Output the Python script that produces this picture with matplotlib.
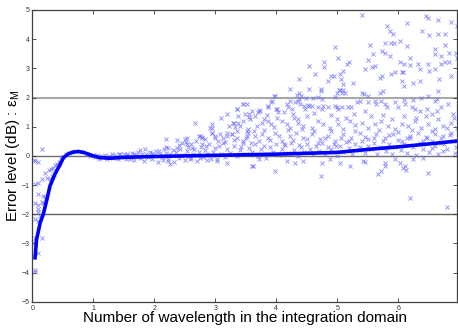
import numpy as np
import matplotlib.pyplot as plt

plt.rcParams['font.family'] = ['Liberation Sans', 'DejaVu Sans']

# mean error curve (thick line)
curve_x = [0.045, 0.07, 0.13, 0.18, 0.24, 0.29, 0.37, 0.45, 0.51, 0.59, 0.67, 0.76, 0.84, 0.92,
           1.0, 1.11, 1.27, 1.5, 2.0, 2.5, 3.0, 3.5, 4.0, 4.5, 5.0, 5.5, 6.0, 6.5, 6.97]
curve_y = [-3.49, -2.86, -2.29, -2.0, -1.49, -1.03, -0.63, -0.32, -0.06, 0.07, 0.13, 0.15, 0.12, 0.06,
           0.0, -0.06, -0.08, -0.05, -0.02, 0.0, 0.02, 0.04, 0.06, 0.09, 0.12, 0.22, 0.31, 0.41, 0.51]

# individual samples as (x, y)
rise_pts = [(0.16, 0.23), (0.03, -0.15), (0.10, -0.2), (0.045, -0.17), (0.21, -0.57), (0.27, -0.49),
            (0.31, -0.46), (0.34, -0.40), (0.37, -0.32), (0.40, -0.28), (0.16, -0.80), (0.24, -0.74),
            (0.29, -0.80), (0.32, -0.69), (0.35, -0.63), (0.045, -0.97), (0.10, -0.94), (0.10, -1.31),
            (0.18, -1.37), (0.21, -1.40), (0.045, -1.62), (0.10, -1.69), (0.16, -1.58), (0.18, -1.62),
            (0.10, -1.83), (0.10, -1.92), (0.045, -2.17), (0.10, -2.23), (0.13, -2.06), (0.045, -2.80),
            (0.16, -2.80), (0.045, -2.97), (0.10, -3.31), (0.045, -3.91), (0.045, -3.97),
            (0.43, -0.2), (0.47, -0.12), (0.5, -0.05), (0.55, 0.05), (0.6, 0.1), (0.65, 0.14),
            (0.7, 0.16), (0.8, 0.12), (0.9, 0.05), (0.95, 0.0)]

band_pts = [(1.0, 0.02), (1.03, -0.05), (1.06, 0.03), (1.1, -0.1), (1.13, 0.0), (1.16, -0.04),
            (1.2, 0.04), (1.23, -0.12), (1.26, -0.02), (1.3, 0.05), (1.33, -0.08), (1.36, 0.02),
            (1.4, -0.1), (1.43, 0.06), (1.46, -0.03), (1.5, 0.08), (1.53, -0.12), (1.56, 0.03),
            (1.6, -0.05), (1.63, 0.1), (1.66, -0.15), (1.7, 0.02), (1.73, 0.12), (1.76, -0.08),
            (1.8, 0.05), (1.83, -0.18), (1.86, 0.08), (1.9, -0.04), (1.93, 0.15), (1.96, -0.12),
            (2.0, 0.04), (2.03, 0.18), (2.06, -0.2), (2.1, 0.08), (2.13, -0.05), (2.16, 0.22),
            (2.2, 0.1), (2.23, -0.1), (2.26, 0.05), (2.3, 0.2), (2.33, -0.22), (2.36, 0.12),
            (2.4, -0.06), (2.43, 0.25), (2.46, 0.02), (2.5, -0.15), (2.53, 0.16), (2.56, 0.3),
            (2.6, -0.08), (2.63, 0.08), (2.66, 0.22), (2.7, -0.18), (2.73, 0.12), (2.76, 0.32),
            (2.8, -0.05), (2.83, 0.2), (2.86, 0.05), (2.9, 0.4), (2.93, -0.12), (2.96, 0.15),
            (3.0, 0.28), (3.03, -0.1), (3.06, 0.35), (3.1, 0.08), (3.13, 0.45), (3.16, -0.05),
            (3.2, 0.22), (1.44, 0.06), (1.55, 0.08), (1.66, 0.06), (1.61, -0.11), (1.77, 0.2),
            (1.85, 0.23), (1.96, 0.11), (2.07, 0.17), (2.26, -0.29), (2.15, -0.15), (2.23, -0.17),
            (2.59, -0.11), (2.75, -0.08), (2.86, -0.15), (3.03, -0.17), (3.19, -0.23)]

band_right_pts = [(3.25, 0.1), (3.3, 0.35), (3.35, 0.0), (3.4, 0.2), (3.45, 0.45), (3.5, 0.05),
                  (3.55, 0.28), (3.6, 0.12), (3.65, 0.4), (3.7, -0.02), (3.75, 0.22), (3.8, 0.35),
                  (3.85, 0.08), (3.9, 0.3), (3.95, 0.15), (4.0, 0.42), (4.05, 0.02), (4.1, 0.25),
                  (4.15, 0.38), (4.2, 0.1), (4.25, 0.45), (4.3, 0.2), (4.35, 0.0), (4.4, 0.32),
                  (4.45, 0.12), (4.5, 0.4), (4.55, 0.25), (4.6, 0.05), (4.65, 0.35), (4.7, 0.18),
                  (4.75, 0.45), (4.8, 0.08), (4.85, 0.3), (4.9, 0.22), (4.95, 0.42), (5.0, 0.0),
                  (5.05, 0.35), (5.1, 0.15), (5.15, 0.48), (5.2, 0.28), (5.25, 0.05), (5.3, 0.4),
                  (5.35, 0.2), (5.4, 0.5), (5.45, 0.1), (5.5, 0.35), (5.55, 0.25), (5.6, 0.45),
                  (5.65, 0.08), (5.7, 0.32), (5.75, 0.5), (5.8, 0.18), (5.85, 0.42), (5.9, 0.05),
                  (5.95, 0.3), (6.0, 0.55), (6.05, 0.2), (6.1, 0.4), (6.15, 0.1), (6.2, 0.6),
                  (6.25, 0.3), (6.3, 0.02), (6.35, 0.45), (6.4, 0.25), (6.45, 0.65), (6.5, 0.15),
                  (6.55, 0.5), (6.6, 0.35), (6.65, 0.05), (6.7, 0.6), (6.75, 0.4), (6.8, 0.25),
                  (6.85, 0.7), (6.9, 0.5), (6.95, 0.3)]

below_pts = [(3.62, -0.34), (3.98, -0.51), (4.74, -0.69), (5.21, -0.34), (5.67, -0.63), (5.72, -0.51),
             (5.78, -0.34), (6.08, -0.40), (6.13, -0.48), (6.19, -1.43), (6.49, -0.57), (6.80, -1.75),
             (6.11, -0.34), (6.03, -0.23), (5.78, -0.23), (5.43, -0.17), (5.46, -0.2), (5.95, -0.11),
             (6.25, -0.11), (6.41, -0.06), (6.55, 0.28), (6.74, 0.17), (6.93, 0.11), (3.60, -0.34),
             (4.17, -0.17), (4.31, -0.23), (4.44, -0.17), (4.75, -0.23), (4.89, -0.11), (5.05, -0.23),
             (3.71, -0.11), (3.84, -0.06)]

mid_pts = [(3.27, 0.74), (3.35, 0.63), (3.46, 0.51), (3.54, 0.80), (3.65, 0.69), (3.76, 0.74),
           (3.87, 0.63), (3.98, 0.80), (4.09, 0.51), (4.22, 0.69), (4.33, 0.80), (4.44, 0.63),
           (4.58, 0.74), (4.71, 0.57), (4.85, 0.69), (4.96, 0.51), (5.10, 0.74), (5.23, 0.63),
           (5.37, 0.80), (5.51, 0.57), (5.64, 0.74), (5.78, 0.63), (5.92, 0.74), (6.06, 0.51),
           (6.19, 0.69), (6.33, 0.80), (6.47, 0.63), (6.60, 0.74), (6.74, 0.69), (6.87, 0.80),
           (2.92, 0.95), (2.95, 0.80), (3.19, 0.80), (3.22, 1.03), (2.75, 0.69), (2.78, 0.63),
           (2.84, 0.57), (3.0, 0.63), (3.08, 0.74), (2.51, 0.57), (2.54, 0.40), (2.62, 0.28),
           (2.20, 0.57), (2.23, 0.28), (2.37, 0.28), (2.37, 0.54), (2.54, 0.61), (2.52, 0.49),
           (3.0, 0.69), (3.05, 0.51), (3.16, 0.49), (3.19, 0.69), (2.2, 0.31), (2.41, 0.38),
           (2.61, 0.40), (2.78, 0.42), (3.29, 1.14), (3.40, 1.03), (3.54, 0.92), (3.68, 1.03),
           (3.76, 1.14), (3.87, 1.20), (3.92, 1.09), (4.09, 1.20), (4.17, 1.09), (4.22, 0.97),
           (4.36, 1.14), (4.44, 1.03), (4.58, 0.97), (4.69, 1.20), (4.77, 1.09), (4.88, 0.97),
           (5.02, 1.09), (5.10, 0.92), (5.21, 1.20), (5.29, 1.06), (5.40, 1.14), (5.51, 0.97),
           (5.62, 1.09), (5.72, 1.20), (5.83, 1.03), (5.94, 0.92), (6.06, 1.09), (6.16, 1.03),
           (6.27, 1.20), (6.38, 0.97), (6.49, 1.09), (6.60, 0.92), (6.74, 1.03), (6.87, 1.14),
           (6.96, 0.97)]

# second pass over the crowded part between 0 and 1.5 dB
extra_pts = [(3.3, 0.55), (3.42, 0.3), (3.5, 0.62), (3.58, 0.45), (3.63, 0.85), (3.72, 0.5),
             (3.8, 0.9), (3.9, 0.55), (3.97, 1.0), (4.05, 0.68), (4.12, 0.4), (4.2, 0.88),
             (4.28, 0.55), (4.38, 0.38), (4.42, 0.92), (4.5, 0.58), (4.62, 0.85), (4.68, 0.45),
             (4.8, 0.62), (4.9, 0.85), (4.98, 0.35), (5.06, 0.6), (5.14, 1.3), (5.2, 0.5),
             (5.3, 0.85), (5.38, 0.32), (5.45, 0.65), (5.55, 1.35), (5.6, 0.6), (5.68, 0.88),
             (5.75, 1.4), (5.85, 0.7), (5.9, 1.28), (6.0, 0.82), (6.1, 1.35), (6.15, 0.62),
             (6.22, 0.9), (6.3, 1.3), (6.4, 0.5), (6.45, 1.38), (6.55, 0.85), (6.65, 1.25),
             (6.7, 0.45), (6.8, 0.95), (6.92, 1.3), (3.1, 1.3), (3.2, 1.45), (3.45, 1.2),
             (3.6, 1.55), (3.85, 1.4), (4.12, 1.5), (4.5, 1.35), (4.62, 1.48), (4.9, 1.4),
             (5.28, 1.45), (5.45, 1.55), (5.0, 1.25), (4.35, 1.25), (3.8, 1.25), (2.95, 1.1),
             (2.85, 0.35), (2.68, 0.52), (2.45, 0.45), (3.12, 0.6)]

upper_pts = [(2.67, 1.11), (2.94, 0.97), (2.94, 0.80), (3.30, 1.14), (3.38, 1.11), (3.33, 0.99),
             (3.36, 0.86), (3.27, 0.74), (3.52, 0.86), (3.52, 0.69), (2.73, 0.69), (2.79, 0.65),
             (3.36, 1.60), (3.52, 1.79), (3.56, 1.45), (3.55, 1.34), (3.35, 1.60), (3.46, 1.79),
             (3.97, 2.06), (3.92, 1.83), (4.36, 1.89), (4.40, 2.06), (3.87, 1.68), (3.73, 1.54),
             (4.0, 1.60), (4.03, 1.49), (4.02, 1.31), (4.26, 1.60), (4.28, 1.43), (4.30, 1.31),
             (4.39, 1.77), (4.47, 1.60), (4.52, 1.75), (4.69, 1.66), (4.77, 1.71), (4.85, 1.66),
             (4.96, 1.71), (5.02, 1.60), (5.18, 1.66), (5.23, 1.68), (5.32, 1.83), (5.37, 1.89),
             (5.51, 1.86), (5.62, 1.89), (5.64, 1.77), (5.72, 1.89), (5.78, 1.77), (5.81, 1.66),
             (5.94, 1.83), (6.0, 1.66), (6.11, 1.77), (6.22, 1.68), (6.28, 1.60), (6.36, 1.54),
             (6.47, 1.60), (6.55, 1.43), (6.63, 1.54), (6.71, 1.66), (6.82, 1.77), (6.90, 1.43),
             (3.38, 1.37), (3.49, 1.43), (3.57, 1.26), (3.65, 1.37), (3.70, 1.49)]

top_pts = [(4.96, 3.74), (5.01, 3.34), (4.79, 3.22), (4.79, 3.03), (4.54, 3.09), (4.64, 2.82),
           (4.38, 2.65), (4.90, 2.72), (4.95, 2.74), (5.05, 2.80), (5.10, 2.91), (5.16, 3.14),
           (5.19, 3.2), (4.85, 2.57), (4.23, 2.29), (4.38, 2.14), (4.34, 2.09), (4.54, 2.29),
           (4.74, 2.29), (4.74, 2.23), (4.99, 2.17), (5.05, 2.25), (5.10, 2.25), (5.08, 2.14),
           (5.13, 2.14), (3.98, 2.06), (3.93, 1.89), (3.87, 1.71), (3.45, 1.77), (4.23, 1.89),
           (4.31, 1.83), (4.37, 1.94), (4.49, 2.0), (4.60, 2.0), (4.69, 2.02), (4.75, 1.94),
           (4.96, 2.02), (4.17, 1.77), (4.2, 1.66), (4.45, 1.71), (4.53, 1.71), (4.58, 1.71),
           (4.75, 1.60), (4.99, 1.66), (5.08, 1.68), (4.01, 1.6), (3.71, 1.58),
           (5.41, 4.82), (6.14, 4.55), (6.45, 4.78), (6.49, 4.74), (6.66, 4.66), (6.86, 4.60),
           (6.96, 4.46), (5.82, 4.46), (5.87, 4.29), (5.92, 4.17), (6.39, 4.29), (6.50, 4.15),
           (6.66, 4.17), (6.76, 4.17), (6.03, 3.94), (5.88, 3.88), (5.93, 3.88), (5.53, 3.80),
           (5.78, 3.86), (6.14, 3.77), (6.77, 3.80), (6.60, 3.66), (5.73, 3.60), (5.78, 3.51),
           (5.87, 3.43), (5.59, 3.49), (6.19, 3.37), (6.61, 3.49), (6.71, 3.43), (6.83, 3.54),
           (6.95, 3.54), (5.51, 3.28), (5.62, 3.09), (5.46, 2.97), (5.57, 3.05), (6.03, 3.20),
           (6.09, 3.16), (6.20, 3.12), (6.33, 3.14), (6.35, 2.99), (6.49, 3.14), (6.51, 2.91),
           (6.60, 2.97), (6.70, 3.14), (6.76, 3.20), (6.84, 3.22), (6.96, 3.37), (5.95, 2.86),
           (6.06, 2.86), (6.08, 2.89), (5.89, 2.80), (6.67, 2.63), (6.87, 2.74), (5.70, 2.68),
           (5.73, 2.74), (5.26, 2.51), (5.07, 2.63), (5.10, 2.46), (5.03, 2.25), (6.06, 2.57),
           (6.25, 2.51), (6.36, 2.57), (6.09, 2.40), (6.66, 2.23), (5.40, 2.17), (5.44, 2.12),
           (5.50, 2.06), (5.70, 2.17), (5.75, 2.23), (6.38, 2.0), (6.49, 2.06), (6.60, 1.89),
           (6.63, 1.94), (6.09, 1.91), (6.25, 1.91)]

fig = plt.figure(figsize=(4.58, 3.31), dpi=100)
ax = fig.add_axes([0.0705, 0.088, 0.928, 0.882])

for y, c, lw in [(2, '#a8a8a8', 1.5), (0, '#707070', 1.0), (-2, '#606060', 1.0)]:
    ax.axhline(y, color=c, lw=lw, zorder=1)

for group in [rise_pts, band_pts, band_right_pts, below_pts, mid_pts, extra_pts, upper_pts, top_pts]:
    pts = np.array(group)
    ax.plot(pts[:, 0], pts[:, 1], 'x', color='#6a6aff', alpha=0.75, ms=3.0, mew=0.65, zorder=2)

ax.plot(curve_x, curve_y, color='#0000ff', lw=2.6, zorder=3)

ax.set_xlim(0, 6.97)
ax.set_ylim(-5, 5)
ax.set_xticks(range(0, 7))
ax.set_yticks(range(-5, 6))
ax.tick_params(direction='in', length=3, width=0.6, labelsize=5, colors='#333333',
               top=True, right=True, pad=2)
for s in ax.spines.values():
    s.set_color('#404040')
    s.set_linewidth(0.9)

ax.set_xlabel('Number of wavelength in the integration domain', fontsize=11)
ax.set_ylabel(r'Error level (dB) : ε$_{\mathregular{M}}$', fontsize=11)
ax.xaxis.set_label_coords(0.5, -0.03, transform=ax.transAxes)
ax.xaxis.label.set_va('top')
ax.yaxis.set_label_coords(-0.045, 0.5, transform=ax.transAxes)
ax.yaxis.label.set_va('center')

fig.savefig('out.png', dpi=100)
